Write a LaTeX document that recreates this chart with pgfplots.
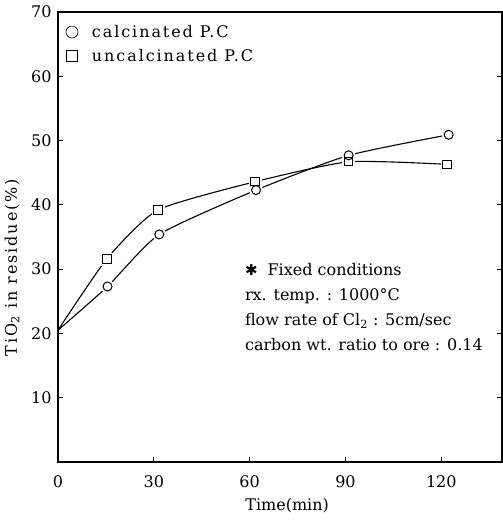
\documentclass[border=0pt]{standalone}
\usepackage{fontspec}
\setmainfont{DejaVu Serif}
\newfontfamily\wide[LetterSpace=12]{DejaVu Serif}
\newfontfamily\djs{DejaVu Sans}
\usepackage{pgfplots}
\pgfplotsset{compat=1.18}
\begin{document}
\begin{tikzpicture}
\begin{axis}[
  scale only axis,
  width=444pt, height=450pt,
  xmin=0, xmax=139, ymin=0, ymax=70,
  xtick={0,30,60,90,120},
  ytick={10,20,30,40,50,60,70},
  xtick pos=bottom,
  ytick pos=both,
  tick align=inside,
  major tick length=5pt,
  axis line style={line width=1.1pt},
  every tick/.style={line width=0.9pt, black},
  tick label style={font=\fontsize{16}{18}\selectfont},
  /pgf/number format/assume math mode=true,
  xticklabel style={yshift=-10pt},
  yticklabel style={xshift=-3pt},
  label style={font=\fontsize{16}{18}\selectfont},
  xlabel={Time(min)},
  ylabel={{\wide TiO\textsubscript{2} in residue(\%)}},
  xlabel style={at={(axis description cs:0.516,-0.0978)}, anchor=center},
  ylabel style={at={(axis description cs:-0.1036,0.432)}, anchor=center},
  legend style={at={(axis cs:1.5,68.6)}, anchor=north west, draw=none, fill=none,
    font=\fontsize{16}{18}\selectfont\wide, row sep=6pt},
  legend cell align=left,
  legend image code/.code={\draw[#1] plot coordinates {(0.25cm,0cm)};},
]
\addlegendimage{only marks, mark=o, mark size=6pt, semithick, black}
\addlegendentry{\hspace{12pt}calcinated P.C}
\addlegendimage{only marks, mark=square, mark size=5.5pt, semithick, black}
\addlegendentry{\hspace{12pt}uncalcinated P.C}

\addplot[black, line width=1.1pt, smooth, tension=0.35, forget plot]
  coordinates {(0,20.5) (15.5,27.3) (31.7,35.4) (62,42.3) (91,47.7) (122.3,50.9)};
\addplot[black, line width=1.1pt, smooth, tension=0.35, forget plot]
  coordinates {(0,20.5) (15.3,31.6) (31.3,39.2) (61.7,43.6) (91,46.7) (121.8,46.3)};

% white halo so the lines stop short of the marks
\addplot[only marks, mark=*, mark size=6.5pt, white, forget plot]
  coordinates {(15.5,27.3) (31.7,35.4) (62,42.3) (91,47.7) (122.3,50.9)};
\addplot[only marks, mark=square*, mark size=6pt, white, forget plot]
  coordinates {(15.3,31.6) (31.3,39.2) (61.7,43.6) (91,46.7) (121.8,46.3)};

\addplot[only marks, mark=o, mark size=4.5pt, black, line width=1pt, mark options={fill=white}, forget plot]
  coordinates {(15.5,27.3) (31.7,35.4) (62,42.3) (91,47.7) (122.3,50.9)};
\addplot[only marks, mark=square, mark size=4.2pt, black, line width=1pt, mark options={fill=white}, forget plot]
  coordinates {(15.3,31.6) (31.3,39.2) (61.7,43.6) (91,46.7) (121.8,46.3)};

\node[anchor=north west, align=left, font=\fontsize{16}{25.3}\selectfont, inner sep=0pt]
  at (axis cs:58.5,31.0)
  {{\djs\fontsize{15}{15}\selectfont ✱}\hspace{10pt}Fixed conditions\\
   rx. temp. : 1000°C\\
   flow rate of Cl\textsubscript{2} : 5cm/sec\\
   carbon wt. ratio to ore : 0.14};
\end{axis}
\pgfresetboundingbox
\useasboundingbox ([shift={(-58pt,-60pt)}]current axis.south west) rectangle ([shift={(1pt,12pt)}]current axis.north east);
\end{tikzpicture}
\end{document}
